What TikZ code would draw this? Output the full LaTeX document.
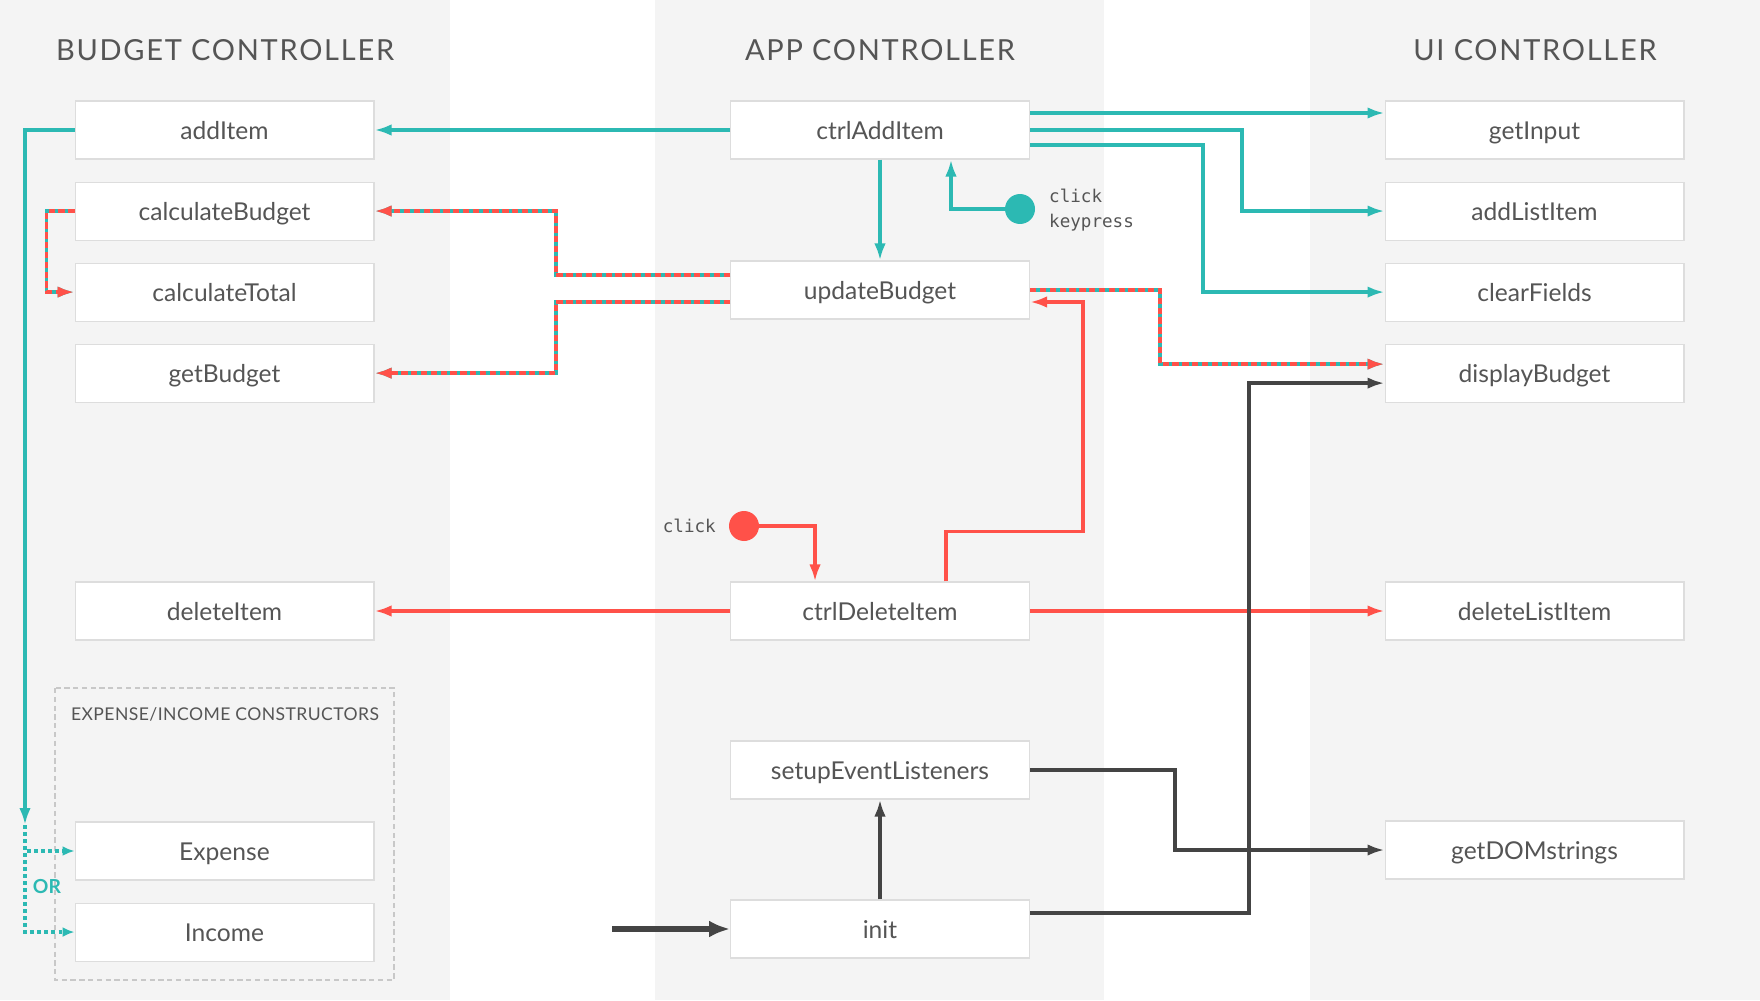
\documentclass[tikz,border=0pt]{standalone}
\usepackage{fontspec}
\setmainfont{Lato}
\setmonofont{DejaVu Sans Mono}
\newfontfamily\headfont[LetterSpace=6]{Lato}
\newfontfamily\groupfont[LetterSpace=2.5]{Lato}
\usetikzlibrary{positioning,arrows.meta}
\definecolor{panelgray}{HTML}{F4F4F4}
\definecolor{boxline}{HTML}{DDDDDD}
\definecolor{groupline}{HTML}{C8C8C8}
\definecolor{textgray}{HTML}{555555}
\definecolor{tealc}{HTML}{2CB9B3}
\definecolor{redc}{HTML}{FF5149}
\definecolor{darkc}{HTML}{444444}
\tikzset{
  % Specifications for style of nodes:
  base/.style = {
    rectangle,
    draw=boxline,
    line width=0.6pt,
    fill=white,
    text=textgray,
    text centered
  },
  func/.style = {
    base,
    minimum width=5.98cm,
    minimum height=1.16cm,
    node distance=0.44cm,
    text height=11pt,
    text depth=0pt,
    font=\fontsize{14}{16}\selectfont
  },
  title/.style = {
    text=textgray,
    font=\headfont\fontsize{16.5}{18}\selectfont
  },
  grouptitle/.style = {
    text=textgray,
    font=\groupfont\fontsize{10}{12}\selectfont
  },
  groupbox/.style = {
    draw=groupline,
    line width=0.6pt,
    dash pattern=on 3pt off 2pt
  },
  dot/.style = {
    circle,
    minimum size=0.6cm,
    inner sep=0pt
  },
  event/.style = {
    text=textgray,
    align=left,
    font=\ttfamily\fontsize{10}{14}\selectfont
  },
  % Specifications for style of connectors:
  conn/.style = {
    line width=2pt,
    -{Latex[length=0.34cm,width=0.23cm]}
  },
  tealline/.style = {conn, draw=tealc},
  redline/.style  = {conn, draw=redc},
  darkline/.style = {conn, draw=darkc},
  mixline/.style  = {
    conn,
    draw=redc,
    dash pattern=on 3.6pt off 2pt,
    preaction={draw=tealc, solid, line width=2pt}
  },
  orline/.style = {
    line width=2pt,
    draw=tealc,
    dash pattern=on 2pt off 2pt,
    -{Latex[length=0.24cm,width=0.2cm]}
  },
}

\begin{document}
\begin{tikzpicture}[x=0.02cm, y=-0.02cm]
    \useasboundingbox (0,0) rectangle (1760,1000);
    % Background columns
    \fill[panelgray] (0,0) rectangle (450,1000);
    \fill[panelgray] (655,0) rectangle (1104,1000);
    \fill[panelgray] (1310,0) rectangle (1760,1000);
    % Column titles
    \node[title] (budgetTitle) at (225,50)  {BUDGET CONTROLLER};
    \node[title] (appTitle)    at (880,50)  {APP CONTROLLER};
    \node[title] (uiTitle)     at (1535,50) {UI CONTROLLER};
    % Budget controller
    \node[func]                         (addItem)         at (224.5,130) {addItem};
    \node[func, below=of addItem]         (calculateBudget)               {calculateBudget};
    \node[func, below=of calculateBudget] (calculateTotal)                {calculateTotal};
    \node[func, below=of calculateTotal]  (getBudget)                     {getBudget};
    \node[func]                         (deleteItem)      at (224.5,611) {deleteItem};
    \draw[groupbox] (55,688) rectangle (394,980);
    \node[grouptitle] (ctorsTitle) at (225,714) {EXPENSE/INCOME CONSTRUCTORS};
    \node[func]                         (expense)         at (224.5,851) {Expense};
    \node[func, below=of expense]         (income)                        {Income};
    \node[text=tealc, font=\bfseries\fontsize{11}{13}\selectfont] (orLabel) at (47,887) {OR};
    % App controller
    \node[func] (ctrlAddItem)         at (880,130) {ctrlAddItem};
    \node[func] (updateBudget)        at (880,290) {updateBudget};
    \node[func] (ctrlDeleteItem)      at (880,611) {ctrlDeleteItem};
    \node[func] (setupEventListeners) at (880,770) {setupEventListeners};
    \node[func] (init)                at (880,929) {init};
    \node[dot, fill=tealc] (clickAdd) at (1020,209) {};
    \node[event, anchor=west] (clickAddText) at (1043,210) {click\\keypress};
    \node[dot, fill=redc] (clickDel) at (744,526) {};
    \node[event, anchor=east] (clickDelText) at (722,526) {click};
    % UI controller
    \node[func]                       (getInput)       at (1534.5,130) {getInput};
    \node[func, below=of getInput]      (addListItem)                   {addListItem};
    \node[func, below=of addListItem]   (clearFields)                   {clearFields};
    \node[func, below=of clearFields]   (displayBudget)                 {displayBudget};
    \node[func]                       (deleteListItem) at (1534.5,611) {deleteListItem};
    \node[func]                       (getDOMstrings)  at (1534.5,850) {getDOMstrings};

    % Adding an item
    \draw[tealline] (ctrlAddItem) -- (addItem);
    \draw[tealline] ([yshift=0.34cm]ctrlAddItem.east) -- ([yshift=0.34cm]getInput.west);
    \draw[tealline] (ctrlAddItem.east) -- ++(212,0) |- (addListItem.west);
    \draw[tealline] ([yshift=-0.3cm]ctrlAddItem.east) -- ++(173,0) |- (clearFields.west);
    \draw[tealline] (ctrlAddItem) -- (updateBudget);
    \draw[tealline] (clickAdd) -| ([xshift=1.42cm]ctrlAddItem.south);
    \coordinate (orSplit) at (25,825);
    \draw[tealline] (addItem.west) -| (orSplit);
    \draw[orline] (orSplit) |- (expense.west);
    \draw[orline] (orSplit) |- (income.west);
    % Updating the budget
    \draw[mixline] ([yshift=0.3cm]updateBudget.west) -- ++(-174,0) |- (calculateBudget.east);
    \draw[mixline] ([yshift=-0.24cm]updateBudget.west) -- ++(-174,0) |- (getBudget.east);
    \draw[mixline] (calculateBudget.west) -- ++(-28,0) |- (calculateTotal.west);
    \draw[mixline] (updateBudget.east) -- ++(130,0) |- ([yshift=0.18cm]displayBudget.west);
    % Deleting an item
    \draw[redline] (ctrlDeleteItem) -- (deleteItem);
    \draw[redline] (ctrlDeleteItem) -- (deleteListItem);
    \draw[redline] (clickDel) -| ([xshift=-1.3cm]ctrlDeleteItem.north);
    \draw[redline] ([xshift=1.32cm]ctrlDeleteItem.north) -- ++(0,-50) -- ++(137,0) |- ([yshift=-0.24cm]updateBudget.east);
    % Initialisation
    \draw[darkline] (init) -- (setupEventListeners);
    \coordinate (entry) at (612,929);
    \draw[darkline, line width=3.4pt, -{Latex[length=0.42cm,width=0.34cm]}] (entry) -- (init);
    \draw[darkline] (setupEventListeners.east) -- ++(145,0) |- (getDOMstrings.west);
    \draw[darkline] ([yshift=0.32cm]init.east) -- ++(219,0) |- ([yshift=-0.2cm]displayBudget.west);
\end{tikzpicture}
\end{document}
